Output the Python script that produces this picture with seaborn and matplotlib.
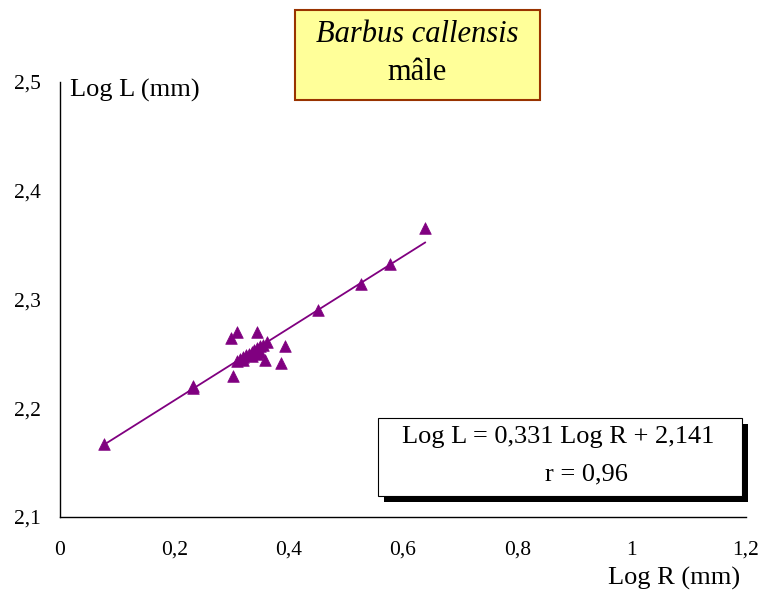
import numpy as np
import pandas as pd
import matplotlib
matplotlib.use("Agg")
import matplotlib.pyplot as plt
import seaborn as sns
from matplotlib.patches import Rectangle

# ---- data ----
log_r = [0.077, 0.232, 0.233, 0.299, 0.302, 0.309, 0.344, 0.359, 0.362, 0.386, 0.394,
         0.452, 0.527, 0.578, 0.639,
         0.310, 0.315, 0.320, 0.325, 0.330, 0.335, 0.340, 0.345, 0.350, 0.355,
         0.320, 0.335, 0.345, 0.350]
log_l = [2.167, 2.219, 2.220, 2.265, 2.230, 2.270, 2.270, 2.244, 2.261, 2.242, 2.2575,
         2.290, 2.314, 2.333, 2.366,
         2.2436, 2.2453, 2.247, 2.2486, 2.2502, 2.2519, 2.2535, 2.255, 2.2569, 2.2585,
         2.244, 2.248, 2.250, 2.252]
slope = 0.331
intercept = 2.141
r_value = 0.96
x_ticks = [0, 0.2, 0.4, 0.6, 0.8, 1.0, 1.2]
x_tick_labels = ["0", "0,2", "0,4", "0,6", "0,8", "1", "1,2"]
y_ticks = [2.1, 2.2, 2.3, 2.4, 2.5]
y_tick_labels = ["2,1", "2,2", "2,3", "2,4", "2,5"]

df = pd.DataFrame({"R": log_r, "L": log_l})

sns.set_theme(style="white")
plt.rcParams["font.family"] = ["Liberation Serif", "DejaVu Serif"]
plt.rcParams["text.color"] = "black"
plt.rcParams["xtick.color"] = "black"
plt.rcParams["ytick.color"] = "black"

W, H = 763, 596
fig = plt.figure(figsize=(W / 100, H / 100), dpi=100)
ax = fig.add_axes([60 / W, 1 - 517 / H, (746 - 60) / W, (517 - 82) / H])

purple = "#800080"
line_x = np.array([min(log_r), max(log_r)])
ax.plot(line_x, slope * line_x + intercept, color=purple, lw=1.3, zorder=2)
sns.scatterplot(data=df, x="R", y="L", marker="^", s=70, color=purple,
                edgecolor=purple, linewidth=0.5, ax=ax, zorder=3)

ax.set_xlim(0, 1.2)
ax.set_ylim(2.1, 2.5)
ax.set_xticks(x_ticks)
ax.set_xticklabels(x_tick_labels)
ax.set_yticks(y_ticks)
ax.set_yticklabels(y_tick_labels)
ax.set_xlabel("")
ax.set_ylabel("")
for s in ["top", "right"]:
    ax.spines[s].set_visible(False)
for s in ["left", "bottom"]:
    ax.spines[s].set_color("black")
    ax.spines[s].set_linewidth(1.0)
ax.tick_params(axis="both", which="both", direction="out", length=4, width=0.8,
               color="black", labelsize=15.5, labelcolor="black")
ax.tick_params(axis="x", pad=13)
ax.tick_params(axis="y", pad=10)
ax.grid(False)

# axis labels
fig.text(70 / W, 1 - 90 / H, "Log L (mm)", fontsize=19, ha="left", va="center")
fig.text(740 / W, 1 - 578 / H, "Log R (mm)", fontsize=19, ha="right", va="center")

# title box
fig.patches.append(Rectangle((295 / W, 1 - 100 / H), (540 - 295) / W, 90 / H,
                             transform=fig.transFigure, facecolor="#FFFF99",
                             edgecolor="#993300", lw=1.5, zorder=5))
fig.text(417 / W, 1 - 34 / H, "Barbus callensis", fontsize=22, style="italic",
         ha="center", va="center", zorder=6)
fig.text(417 / W, 1 - 72 / H, "mâle", fontsize=22, ha="center", va="center", zorder=6)

# equation box with shadow
fig.patches.append(Rectangle((384 / W, 1 - 502 / H), (742 - 378) / W, 78 / H,
                             transform=fig.transFigure, facecolor="black",
                             edgecolor="black", lw=0, zorder=5))
fig.patches.append(Rectangle((378 / W, 1 - 496 / H), (742 - 378) / W, 78 / H,
                             transform=fig.transFigure, facecolor="white",
                             edgecolor="black", lw=0.8, zorder=6))
eq = f"Log L = {slope:.3f} Log R + {intercept:.3f}".replace(".", ",")
fig.text(558 / W, 1 - 437 / H, eq, fontsize=19, ha="center", va="center", zorder=7)
fig.text(586 / W, 1 - 474 / H, f"r = {r_value:.2f}".replace(".", ","), fontsize=19,
         ha="center", va="center", zorder=7)

fig.savefig("out.png", dpi=100)
